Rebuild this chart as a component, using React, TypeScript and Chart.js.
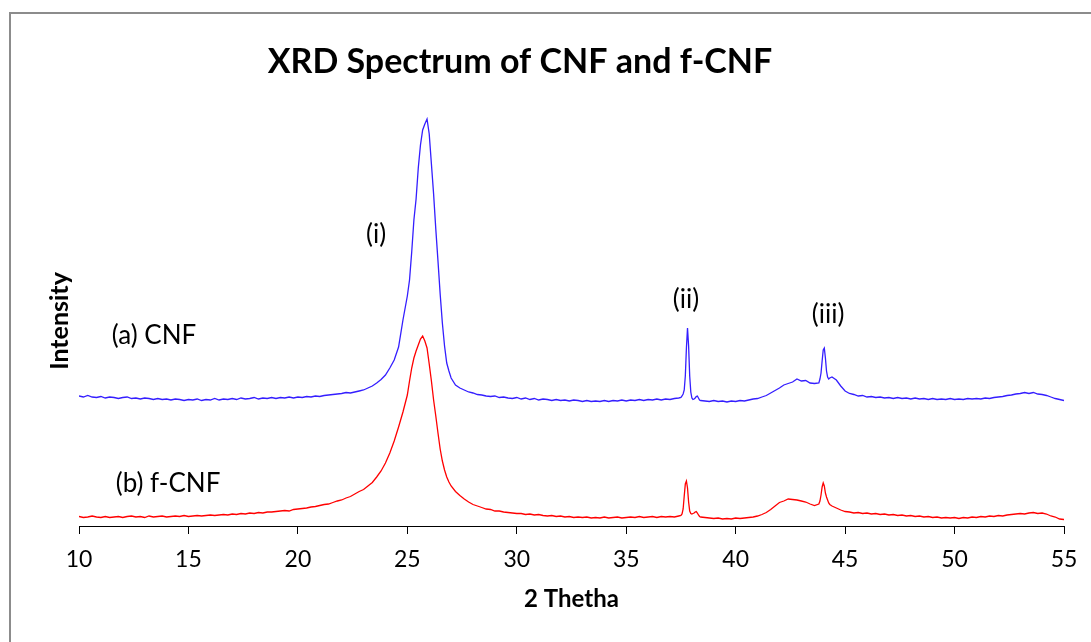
import React, { useEffect, useRef } from "react";
import { Chart, registerables } from "chart.js";

Chart.register(...registerables);

// 2θ positions (degrees)
const twoTheta: number[] = [
  10.0, 10.2, 10.4, 10.6, 10.8, 11.0, 11.2, 11.4, 11.6, 11.8,
  12.0, 12.2, 12.4, 12.6, 12.8, 13.0, 13.2, 13.4, 13.6, 13.8,
  14.0, 14.2, 14.4, 14.6, 14.8, 15.0, 15.2, 15.4, 15.6, 15.8,
  16.0, 16.2, 16.4, 16.6, 16.8, 17.0, 17.2, 17.4, 17.6, 17.8,
  18.0, 18.2, 18.4, 18.6, 18.8, 19.0, 19.2, 19.4, 19.6, 19.8,
  20.0, 20.2, 20.4, 20.6, 20.8, 21.0, 21.2, 21.4, 21.6, 21.8,
  22.0, 22.2, 22.4, 22.6, 22.8, 23.0, 23.2, 23.4, 23.6, 23.8,
  24.0, 24.2, 24.4, 24.6, 24.8,
  25.0, 25.1, 25.2, 25.3, 25.4, 25.5, 25.6, 25.7, 25.8, 25.9,
  26.0, 26.1, 26.2, 26.3, 26.4, 26.5, 26.6, 26.7, 26.8, 26.9,
  27.0,
  27.2, 27.4, 27.6, 27.8, 28.0, 28.2, 28.4, 28.6, 28.8, 29.0,
  29.2, 29.4, 29.6, 29.8, 30.0, 30.2, 30.4, 30.6, 30.8, 31.0,
  31.2, 31.4, 31.6, 31.8, 32.0, 32.2, 32.4, 32.6, 32.8, 33.0,
  33.2, 33.4, 33.6, 33.8, 34.0, 34.2, 34.4, 34.6, 34.8, 35.0,
  35.2, 35.4, 35.6, 35.8, 36.0, 36.2, 36.4, 36.6, 36.8, 37.0,
  37.2, 37.4,
  37.5, 37.55, 37.6, 37.65, 37.7, 37.75, 37.8, 37.85, 37.9, 37.95,
  38.0, 38.05, 38.1, 38.15, 38.2, 38.25, 38.3, 38.35, 38.4,
  38.6, 38.8, 39.0, 39.2, 39.4, 39.6, 39.8, 40.0, 40.2, 40.4,
  40.6, 40.8, 41.0, 41.2, 41.4, 41.6, 41.8, 42.0, 42.2, 42.4,
  42.6, 42.8, 43.0, 43.2, 43.4, 43.6, 43.8,
  43.85, 43.9, 43.95, 44.0, 44.05, 44.1, 44.15, 44.2, 44.25, 44.3,
  44.4, 44.6, 44.8, 45.0, 45.2, 45.4, 45.6, 45.8, 46.0, 46.2,
  46.4, 46.6, 46.8, 47.0, 47.2, 47.4, 47.6, 47.8, 48.0, 48.2,
  48.4, 48.6, 48.8, 49.0, 49.2, 49.4, 49.6, 49.8, 50.0, 50.2,
  50.4, 50.6, 50.8, 51.0, 51.2, 51.4, 51.6, 51.8, 52.0, 52.2,
  52.4, 52.6, 52.8, 53.0, 53.2, 53.4, 53.6, 53.8, 54.0, 54.2,
  54.4, 54.6, 54.8, 55.0,
];

// (a) CNF intensity (arbitrary units, offset trace)
const cnfIntensity: number[] = [
  130, 129, 130.5, 129, 128.5, 129.5, 128, 129, 128.5, 127.5,
  128.5, 129, 127.5, 128, 127, 128, 127.5, 126.5, 127.5, 126.5,
  127, 126, 127, 126.5, 125.5, 126.5, 126, 127, 125.5, 126.5,
  126, 127.5, 126, 127, 126.5, 127.5, 126.5, 128, 127, 127.5,
  128.5, 127, 128, 127.5, 128.5, 127.5, 128.5, 128, 129, 128,
  129, 128.5, 129.5, 129, 130, 129.5, 130.5, 131, 131.5, 132,
  132.5, 133.5, 133, 134, 135, 136, 138, 140, 143, 146.5,
  151, 158, 166, 179, 206,
  230, 246, 274, 306, 327, 358, 381, 396, 402, 407,
  392, 362, 332, 297, 265, 232, 203, 180, 163, 155,
  148,
  141, 138, 136, 134, 133, 131.5, 131, 130, 129.5, 130,
  128.5, 129, 128, 127.5, 128.5, 127, 128, 126.5, 127.5, 126,
  127, 126.5, 125.5, 126.5, 125.5, 126, 125, 126, 125.5, 124.5,
  125.5, 124.5, 125, 124.5, 125.5, 124.5, 125.5, 125, 126, 125,
  126, 125.5, 126.5, 125.5, 126.5, 126, 127, 126, 127, 126.5,
  127.5, 128,
  128.5, 130, 132, 136, 150, 178, 198, 180, 150, 134,
  128, 126.5, 127, 128, 129.5, 130, 128, 126, 125.5,
  125, 124.5, 125.5, 124.5, 125, 124, 125, 124.5, 125.5, 125,
  126, 127, 127.5, 129, 130.5, 133, 135.5, 138, 141, 142.5,
  144, 147, 145, 145.5, 143, 142.5, 143,
  147, 153, 165, 176, 178, 168, 155, 149, 147, 148,
  149, 146, 140, 135, 132.5, 131.5, 130, 130.5, 129, 129.5,
  128.5, 129, 128, 128.5, 127.5, 128.5, 127.5, 128, 127, 128,
  127, 127.5, 126.5, 127.5, 126.5, 127, 126.5, 127.5, 126.5, 127,
  126.5, 127.5, 127, 127.5, 127, 128, 127.5, 128.5, 129, 129.5,
  130.5, 131, 132, 132.5, 133.5, 132.5, 133.5, 132, 131.5, 130.5,
  129, 127.5, 126.5, 125.5,
];

// (b) f-CNF intensity (arbitrary units)
const fcnfIntensity: number[] = [
  9.5, 8.5, 9, 10, 9, 8.5, 9.5, 8.5, 9, 9.5,
  8.5, 9.5, 10, 9, 9.5, 8.5, 10, 9, 9.5, 10,
  9, 9.5, 10, 9.5, 10.5, 9.5, 10, 10.5, 10, 10.5,
  11, 10.5, 11, 11.5, 11, 12, 11.5, 12.5, 12, 13,
  12.5, 13.5, 13, 14, 14, 14.5, 15, 15.5, 15, 16.5,
  17, 17.5, 18, 19, 19.5, 20.5, 21.5, 22, 23.5, 25,
  26, 28, 29.5, 32, 34.5, 36.5, 40, 43.5, 49, 55,
  63, 73, 85, 99, 114,
  131, 145, 158, 168, 175, 181, 187, 190, 185, 178,
  162, 145, 126, 110, 93, 77, 65, 56, 49, 44,
  40,
  34.5, 30.5, 27, 24, 21.5, 20, 18.5, 17, 16.5, 15,
  15, 14, 13.5, 13, 12.5, 12.5, 11.5, 12, 11, 11.5,
  10.5, 10, 10.5, 9.5, 10, 9, 9.5, 8.5, 9, 8.5,
  9, 8, 8.5, 8, 9, 8, 8.5, 9, 8, 8.5,
  9, 8.5, 9.5, 8.5, 9, 9.5, 8.5, 9.5, 9, 9.5,
  9, 10,
  10.5, 12, 17, 30, 42, 45, 38, 24, 15, 12.5,
  12, 12.5, 13, 14, 14.5, 13, 11, 9.5, 9,
  8.5, 8, 7.5, 8, 7, 7.5, 7, 8, 7.5, 8,
  8.5, 9, 10, 11.5, 13.5, 16.5, 20, 23.5, 25, 27,
  26.5, 26, 25, 24, 22, 20.5, 22,
  25, 31, 39, 43, 40, 33, 29, 26, 23, 21.5,
  20, 18, 16, 14.5, 14, 13, 13.5, 12.5, 13, 12,
  12.5, 11.5, 12, 11, 11.5, 10.5, 11, 10, 10.5, 9.5,
  10, 9, 9.5, 8.5, 9, 8, 8.5, 8, 8.5, 7.5,
  8.5, 8, 9, 8.5, 9.5, 9, 10, 9.5, 10.5, 10,
  11, 11.5, 12, 12.5, 12, 13, 13.5, 12.5, 13, 12,
  10, 9, 7, 6.5,
];

const seriesNames = ["(a) CNF", "(b) f-CNF"];
const xMin = 10;
const xMax = 55;
const xStep = 5;

// text labels placed in data coordinates
const labelTexts = ["(a) CNF", "(b) f-CNF", "(i)", "(ii)", "(iii)"];
const labelX = [13.43, 14.07, 23.57, 37.73, 44.22];
const labelY = [182, 34, 283, 218, 203];

const FONT = "Lato, 'Open Sans', sans-serif";
const TITLE = "XRD Spectrum of CNF and f-CNF";

const framePlugin = {
  id: "frame",
  beforeDraw(chart: any) {
    const ctx = chart.ctx;
    ctx.save();
    ctx.fillStyle = "#ffffff";
    ctx.fillRect(0, 0, chart.width, chart.height);
    ctx.strokeStyle = "#8c8c8c";
    ctx.lineWidth = 2;
    ctx.strokeRect(10, 13, chart.width + 50, chart.height + 50);
    ctx.restore();
  },
};

const titlePlugin = {
  id: "customTitle",
  afterDraw(chart: any) {
    const ctx = chart.ctx;
    ctx.save();
    ctx.font = `bold 34px ${FONT}`;
    ctx.fillStyle = "#000";
    ctx.textAlign = "center";
    ctx.textBaseline = "alphabetic";
    ctx.fillText(TITLE, 520, 73);
    ctx.restore();
  },
};

const labelPlugin = {
  id: "peakLabels",
  afterDatasetsDraw(chart: any) {
    const ctx = chart.ctx;
    const xs = chart.scales.x;
    const ys = chart.scales.y;
    ctx.save();
    ctx.font = `26px ${FONT}`;
    ctx.fillStyle = "#000";
    ctx.textAlign = "center";
    ctx.textBaseline = "alphabetic";
    labelTexts.forEach((t, i) => {
      ctx.fillText(t, xs.getPixelForValue(labelX[i]), ys.getPixelForValue(labelY[i]));
    });
    ctx.restore();
  },
};

export default function App() {
  const ref = useRef<HTMLCanvasElement | null>(null);

  useEffect(() => {
    if (!ref.current) return;
    const chart = new Chart(ref.current, {
      type: "line",
      data: {
        datasets: [
          {
            label: seriesNames[0],
            data: twoTheta.map((x, i) => ({ x, y: cnfIntensity[i] })),
            borderColor: "rgb(52, 30, 255)",
            borderWidth: 1.3,
            pointRadius: 0,
            tension: 0,
            fill: false,
          },
          {
            label: seriesNames[1],
            data: twoTheta.map((x, i) => ({ x, y: fcnfIntensity[i] })),
            borderColor: "rgb(255, 0, 0)",
            borderWidth: 1.3,
            pointRadius: 0,
            tension: 0,
            fill: false,
          },
        ],
      },
      options: {
        responsive: false,
        animation: false,
        devicePixelRatio: 1,
        layout: { padding: { top: 116, right: 27, bottom: 0, left: 0 } },
        plugins: {
          legend: { display: false },
          tooltip: { enabled: false },
          title: { display: false },
        },
        scales: {
          x: {
            type: "linear",
            min: xMin,
            max: xMax,
            ticks: {
              stepSize: xStep,
              color: "#000",
              font: { family: FONT, size: 23 },
              padding: 12,
              maxRotation: 0,
              autoSkip: false,
            },
            grid: {
              display: true,
              drawOnChartArea: false,
              drawTicks: true,
              tickLength: 8,
              color: "#000",
            },
            border: { display: true, color: "#000", width: 1 },
            title: {
              display: true,
              text: "2 Thetha",
              color: "#000",
              font: { family: FONT, size: 24, weight: "bold" },
              padding: { top: 0, bottom: 28 },
            },
            afterFit(scale: any) {
              scale.height = 116;
            },
          },
          y: {
            type: "linear",
            min: 0,
            max: 410,
            ticks: { display: false },
            grid: { display: false },
            border: { display: false },
            title: {
              display: true,
              text: "Intensity",
              color: "#000",
              font: { family: FONT, size: 25, weight: "bold" },
              padding: { top: 45, bottom: 0 },
            },
            afterFit(scale: any) {
              scale.width = 79;
            },
          },
        },
      },
      plugins: [framePlugin, titlePlugin, labelPlugin],
    } as any);
    return () => chart.destroy();
  }, []);

  return (
    <div style={{ position: "fixed", left: 0, top: 0, width: 1091, height: 642 }}>
      <canvas ref={ref} width={1091} height={642} style={{ display: "block" }} />
    </div>
  );
}
